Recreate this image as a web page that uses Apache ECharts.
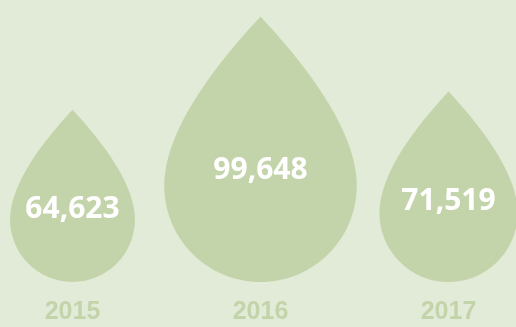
<!DOCTYPE html>
<html>
<head>
<meta charset="utf-8">
<script src="https://cdn.jsdelivr.net/npm/echarts@6/dist/echarts.min.js"></script>
<style>html,body{margin:0;padding:0;background:#e2ebd8;}#c{width:516px;height:327px;}</style>
</head>
<body>
<div id="c"></div>
<script>
const categories = ['2015', '2016', '2017'];
const values = [64623, 99648, 71519];

const DROP = 'M72.5,0 C105,35 145,85 145,127.5 C145,167.5 112.5,200 72.5,200 C32.5,200 0,167.5 0,127.5 C0,85 40,35 72.5,0 Z';
const fmt = v => v.toLocaleString('en-US');

const chart = echarts.init(document.getElementById('c'));
chart.setOption({
  backgroundColor: '#e2ebd8',
  animation: false,
  grid: { left: -21.5, right: -26.5, top: 15.5, bottom: 45, containLabel: false, outerBoundsMode: 'none' },
  xAxis: {
    type: 'category',
    data: categories,
    axisLine: { show: false },
    axisTick: { show: false },
    splitLine: { show: false },
    axisLabel: {
      color: '#c4d4aa',
      fontFamily: '"Liberation Sans", Arial, sans-serif',
      fontWeight: 'bold',
      fontSize: 25,
      margin: 18
    }
  },
  yAxis: { type: 'value', min: 0, max: 100000, show: false, splitLine: { show: false } },
  series: [{
    type: 'custom',
    data: values.map((v, i) => [i, v]),
    renderItem: function (params, api) {
      const x = api.value(0), v = api.value(1);
      const base = api.coord([x, 0]);
      const top = api.coord([x, v]);
      const h = base[1] - top[1];
      const w = h * 0.725;
      return {
        type: 'group',
        children: [
          {
            type: 'path',
            shape: { pathData: DROP, x: base[0] - w / 2, y: top[1], width: w, height: h, layout: 'cover' },
            style: { fill: '#c4d4aa' }
          },
          {
            type: 'text',
            x: base[0],
            y: top[1] + h * 0.58,
            style: {
              text: fmt(v),
              fill: '#ffffff',
              fontSize: 30,
              fontWeight: 'bold',
              fontFamily: '"Open Sans", sans-serif',
              align: 'center',
              verticalAlign: 'middle'
            }
          }
        ]
      };
    }
  }]
});
</script>
</body>
</html>
